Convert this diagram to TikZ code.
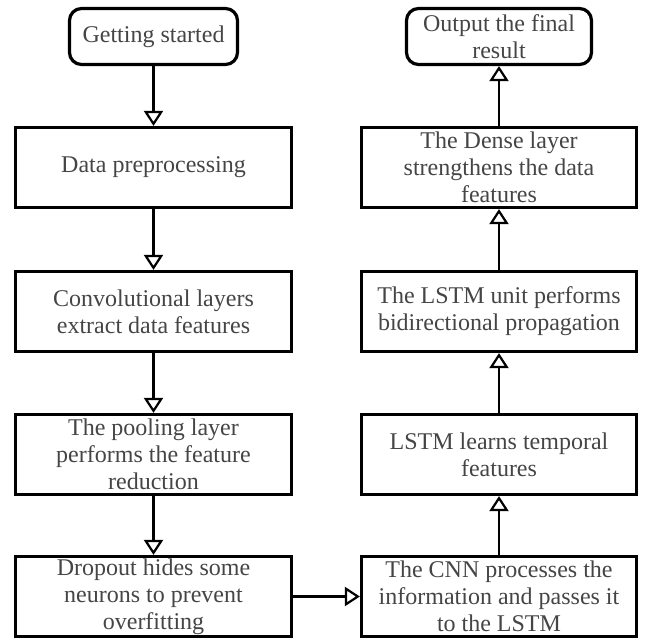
\documentclass[tikz,border=0pt]{standalone}
\usepackage{fontspec}
\setmainfont{Liberation Serif}
\usepackage{xcolor}
\usepackage{tikz}
\usetikzlibrary{arrows.meta}

\definecolor{txtgray}{HTML}{454545}

\begin{document}
\begin{tikzpicture}[x=1pt, y=-1pt,
    >={Triangle[open, length=15pt, width=19pt]},
    box/.style={draw, line width=3.2pt, minimum width=276pt, minimum height=80pt,
        inner xsep=2pt, inner ysep=0pt, align=center, text=txtgray,
        font=\fontsize{24}{27}\selectfont},
    term/.style={box, rounded corners=12pt, minimum height=56pt},
    flow/.style={->, line width=2.2pt}]
    \useasboundingbox (0,0) rectangle (645,639);
    % 1. Cột trái
    \node[term, minimum width=168pt] (start) at (153.5,36.5) {Getting started};
    \node[box] (prep) at (153.5,167.5) {Data preprocessing};
    \node[box] (conv) at (153.5,311.5) {Convolutional layers\\extract data features};
    \node[box] (pool) at (153.5,454.5) {The pooling layer\\performs the feature\\reduction};
    \node[box] (drop) at (153.5,596.5) {Dropout hides some\\neurons to prevent\\overfitting};
    % 2. Cột phải
    \node[box, minimum width=275pt] (cnn) at (499,596.5) {The CNN processes the\\information and passes it\\to the LSTM};
    \node[box, minimum width=275pt] (lstm) at (499,454.5) {LSTM learns temporal\\features};
    \node[box, minimum width=275pt] (bilstm) at (499,311.5) {The LSTM unit performs\\bidirectional propagation};
    \node[box, minimum width=275pt] (dense) at (499,167.5) {The Dense layer\\strengthens the data\\features};
    \node[term, minimum width=185pt] (out) at (499,36.5) {Output the final\\result};
    % 3. Mũi tên
    \draw[flow] (start) -- (prep);
    \draw[flow] (prep) -- (conv);
    \draw[flow] (conv) -- (pool);
    \draw[flow] (pool) -- (drop);
    \draw[flow] (drop) -- (cnn);
    \draw[flow] (cnn) -- (lstm);
    \draw[flow] (lstm) -- (bilstm);
    \draw[flow] (bilstm) -- (dense);
    \draw[flow] (dense) -- (out);
\end{tikzpicture}
\end{document}
